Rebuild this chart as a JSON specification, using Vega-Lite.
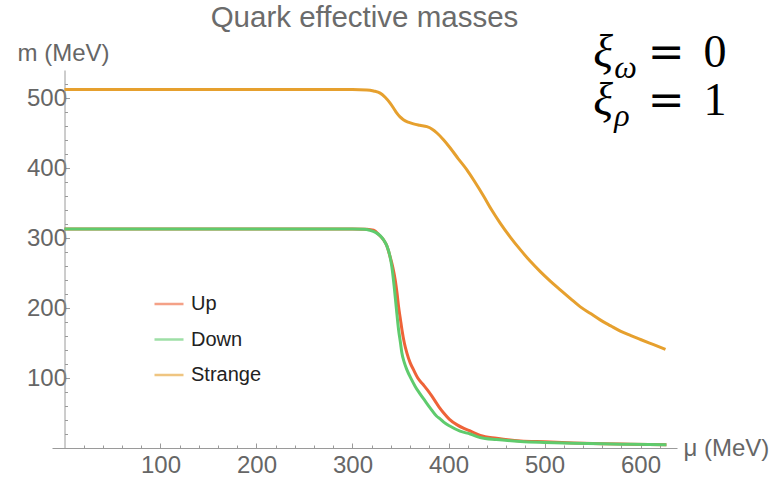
{
  "$schema": "https://vega.github.io/schema/vega-lite/v6.json",
  "width": 625,
  "height": 378,
  "autosize": {"type": "none"},
  "padding": {"left": 52, "top": 70, "right": 107, "bottom": 29},
  "background": "white",
  "config": {"view": {"stroke": null}, "font": "Liberation Sans"},
  "title": {"text": "Quark effective masses", "fontSize": 29.5, "font": "Liberation Sans", "fontWeight": "normal", "color": "#6b6b6b", "anchor": "middle", "offset": 8, "dy": 12},
  "resolve": {"axis": {"x": "independent", "y": "independent"}},
  "datasets": {
    "curves": [
      {"mu": 0, "m": 313, "q": "Up"}, {"mu": 100, "m": 313, "q": "Up"}, {"mu": 200, "m": 313, "q": "Up"}, {"mu": 300, "m": 313, "q": "Up"},
      {"mu": 315, "m": 312.5, "q": "Up"}, {"mu": 322, "m": 311, "q": "Up"}, {"mu": 328, "m": 304, "q": "Up"}, {"mu": 332, "m": 298, "q": "Up"},
      {"mu": 336, "m": 288, "q": "Up"}, {"mu": 339, "m": 274, "q": "Up"}, {"mu": 342, "m": 258, "q": "Up"}, {"mu": 344.5, "m": 240, "q": "Up"},
      {"mu": 346.5, "m": 220, "q": "Up"}, {"mu": 348, "m": 202, "q": "Up"}, {"mu": 350, "m": 183, "q": "Up"}, {"mu": 351.5, "m": 169, "q": "Up"},
      {"mu": 354, "m": 150, "q": "Up"}, {"mu": 356.6, "m": 136, "q": "Up"}, {"mu": 360, "m": 122, "q": "Up"}, {"mu": 363.5, "m": 112, "q": "Up"},
      {"mu": 368, "m": 100, "q": "Up"}, {"mu": 374, "m": 90, "q": "Up"}, {"mu": 378, "m": 83, "q": "Up"}, {"mu": 382.7, "m": 74, "q": "Up"},
      {"mu": 388, "m": 63, "q": "Up"}, {"mu": 391, "m": 57, "q": "Up"}, {"mu": 395, "m": 50, "q": "Up"}, {"mu": 401, "m": 41, "q": "Up"},
      {"mu": 409, "m": 33, "q": "Up"}, {"mu": 416, "m": 28, "q": "Up"}, {"mu": 423, "m": 24, "q": "Up"}, {"mu": 433, "m": 18, "q": "Up"},
      {"mu": 450, "m": 14, "q": "Up"}, {"mu": 475, "m": 10, "q": "Up"}, {"mu": 500, "m": 8.8, "q": "Up"}, {"mu": 530, "m": 7.3, "q": "Up"},
      {"mu": 560, "m": 6.2, "q": "Up"}, {"mu": 590, "m": 5.4, "q": "Up"}, {"mu": 627, "m": 4.7, "q": "Up"},
      {"mu": 0, "m": 313, "q": "Down"}, {"mu": 100, "m": 313, "q": "Down"}, {"mu": 200, "m": 313, "q": "Down"}, {"mu": 300, "m": 313, "q": "Down"},
      {"mu": 312, "m": 312.5, "q": "Down"}, {"mu": 318, "m": 311, "q": "Down"}, {"mu": 324, "m": 308, "q": "Down"}, {"mu": 329, "m": 303, "q": "Down"},
      {"mu": 333, "m": 296, "q": "Down"}, {"mu": 336, "m": 288, "q": "Down"}, {"mu": 339, "m": 274, "q": "Down"}, {"mu": 341, "m": 259, "q": "Down"},
      {"mu": 343.4, "m": 231, "q": "Down"}, {"mu": 345.5, "m": 202, "q": "Down"}, {"mu": 348, "m": 169, "q": "Down"}, {"mu": 350, "m": 150, "q": "Down"},
      {"mu": 351.4, "m": 136, "q": "Down"}, {"mu": 354, "m": 122, "q": "Down"}, {"mu": 356.6, "m": 112, "q": "Down"}, {"mu": 361, "m": 99, "q": "Down"},
      {"mu": 365.3, "m": 88, "q": "Down"}, {"mu": 370, "m": 78, "q": "Down"}, {"mu": 375.7, "m": 67, "q": "Down"}, {"mu": 381, "m": 57, "q": "Down"},
      {"mu": 388, "m": 45, "q": "Down"}, {"mu": 391, "m": 42, "q": "Down"}, {"mu": 395, "m": 37, "q": "Down"}, {"mu": 401.8, "m": 31, "q": "Down"},
      {"mu": 412, "m": 24, "q": "Down"}, {"mu": 422.6, "m": 20, "q": "Down"}, {"mu": 433, "m": 15, "q": "Down"}, {"mu": 450, "m": 12, "q": "Down"},
      {"mu": 475, "m": 9.4, "q": "Down"}, {"mu": 500, "m": 8, "q": "Down"}, {"mu": 530, "m": 6.8, "q": "Down"}, {"mu": 560, "m": 6, "q": "Down"},
      {"mu": 590, "m": 5.3, "q": "Down"}, {"mu": 627, "m": 4.7, "q": "Down"},
      {"mu": 0, "m": 512, "q": "Strange"}, {"mu": 100, "m": 512, "q": "Strange"}, {"mu": 200, "m": 512, "q": "Strange"}, {"mu": 300, "m": 512, "q": "Strange"},
      {"mu": 315, "m": 511.5, "q": "Strange"}, {"mu": 322, "m": 510, "q": "Strange"}, {"mu": 328.8, "m": 507, "q": "Strange"}, {"mu": 334, "m": 501, "q": "Strange"},
      {"mu": 339, "m": 493, "q": "Strange"}, {"mu": 343, "m": 485, "q": "Strange"}, {"mu": 346, "m": 478.6, "q": "Strange"}, {"mu": 349.5, "m": 473, "q": "Strange"},
      {"mu": 353, "m": 469, "q": "Strange"}, {"mu": 358, "m": 465.5, "q": "Strange"}, {"mu": 363.5, "m": 463, "q": "Strange"}, {"mu": 370, "m": 461, "q": "Strange"},
      {"mu": 377.5, "m": 459, "q": "Strange"}, {"mu": 383, "m": 455.5, "q": "Strange"}, {"mu": 388, "m": 450, "q": "Strange"}, {"mu": 395, "m": 440, "q": "Strange"},
      {"mu": 401.8, "m": 428.6, "q": "Strange"}, {"mu": 410, "m": 413.5, "q": "Strange"}, {"mu": 419, "m": 397.6, "q": "Strange"}, {"mu": 427, "m": 381, "q": "Strange"},
      {"mu": 436.5, "m": 360, "q": "Strange"}, {"mu": 445, "m": 340, "q": "Strange"}, {"mu": 454, "m": 321, "q": "Strange"}, {"mu": 464.5, "m": 301, "q": "Strange"},
      {"mu": 475, "m": 283, "q": "Strange"}, {"mu": 485, "m": 267, "q": "Strange"}, {"mu": 495.6, "m": 252, "q": "Strange"}, {"mu": 506, "m": 238.5, "q": "Strange"},
      {"mu": 516.4, "m": 226, "q": "Strange"}, {"mu": 527, "m": 213.5, "q": "Strange"}, {"mu": 537, "m": 202, "q": "Strange"}, {"mu": 548, "m": 192, "q": "Strange"},
      {"mu": 558, "m": 183, "q": "Strange"}, {"mu": 569, "m": 174.5, "q": "Strange"}, {"mu": 579, "m": 167, "q": "Strange"}, {"mu": 590, "m": 160.5, "q": "Strange"},
      {"mu": 600, "m": 155, "q": "Strange"}, {"mu": 613, "m": 148, "q": "Strange"}, {"mu": 626, "m": 141, "q": "Strange"}
    ],
    "eq": [
      {"mu": 550.8, "m": 544.7, "t": "ξ", "part": "main"},
      {"mu": 550.8, "m": 476.1, "t": "ξ", "part": "main"},
      {"mu": 572.7, "m": 529, "t": "ω", "part": "sub"},
      {"mu": 572.7, "m": 460.5, "t": "ρ", "part": "sub"},
      {"mu": 607.5, "m": 544.7, "t": "=", "part": "eqsign"},
      {"mu": 607.5, "m": 476.1, "t": "=", "part": "eqsign"},
      {"mu": 665.5, "m": 544.7, "t": "0", "part": "rhs"},
      {"mu": 665.5, "m": 476.1, "t": "1", "part": "rhs"}
    ]
  },
  "layer": [
    {
      "data": {"name": "curves"},
      "mark": {"type": "line", "strokeWidth": 3, "interpolate": "monotone"},
      "encoding": {
        "x": {
          "field": "mu", "type": "quantitative",
          "scale": {"domain": [-13, 638], "nice": false, "zero": false},
          "axis": {
            "orient": "bottom", "title": "μ (MeV)", "values": [100, 200, 300, 400, 500, 600], "format": "d",
            "domainColor": "#9a9a9a", "tickColor": "#9a9a9a", "tickSize": -5,
            "labelFontSize": 24, "labelColor": "#666666", "labelPadding": 10, "labelOverlap": false, "labelFlush": false,
            "titleFontSize": 24, "titleFontWeight": "normal", "titleColor": "#666666", "titleAngle": 0,
            "titleAlign": "left", "titleBaseline": "middle", "titleX": 631, "titleY": 0, "grid": false
          }
        },
        "y": {
          "field": "m", "type": "quantitative",
          "scale": {"domain": [0, 540], "nice": false, "zero": false},
          "axis": {
            "orient": "left", "title": "m (MeV)", "values": [100, 200, 300, 400, 500], "format": "d",
            "offset": -12.5,
            "domainColor": "#9a9a9a", "tickColor": "#9a9a9a", "tickSize": -5,
            "labelFontSize": 24, "labelColor": "#666666", "labelPadding": 3, "labelOverlap": false, "labelFlush": false,
            "titleFontSize": 24, "titleFontWeight": "normal", "titleColor": "#666666", "titleAngle": 0,
            "titleAlign": "left", "titleBaseline": "alphabetic", "titleX": -47.5, "titleY": -10, "grid": false
          }
        },
        "color": {
          "field": "q", "type": "nominal",
          "scale": {"domain": ["Up", "Down", "Strange"], "range": ["#EE6338", "#5FCB6D", "#E6A02E"]},
          "legend": {
            "title": null, "orient": "none", "legendX": 101, "legendY": 218,
            "symbolType": "stroke", "symbolSize": 841, "symbolStrokeWidth": 2.5, "symbolOpacity": 0.6,
            "labelFontSize": 20, "labelColor": "#222222", "labelFont": "Liberation Sans", "rowPadding": 9.5, "labelOffset": 6, "padding": 0
          }
        }
      }
    },
    {
      "data": {"name": "eq"},
      "transform": [{"filter": "datum.part === 'main'"}],
      "mark": {"type": "text", "font": "Liberation Serif", "fontStyle": "italic", "fontSize": 46, "align": "left", "baseline": "alphabetic", "color": "#000000"},
      "encoding": {
        "x": {"field": "mu", "type": "quantitative", "axis": {"orient": "bottom", "values": [20, 40, 60, 80, 120, 140, 160, 180, 220, 240, 260, 280, 320, 340, 360, 380, 420, 440, 460, 480, 520, 540, 560, 580, 620], "labels": false, "domain": false, "title": null, "tickSize": -3, "tickColor": "#9a9a9a", "grid": false}},
        "y": {"field": "m", "type": "quantitative", "axis": {"orient": "left", "offset": -12.5, "values": [20, 40, 60, 80, 120, 140, 160, 180, 220, 240, 260, 280, 320, 340, 360, 380, 420, 440, 460, 480, 520], "labels": false, "domain": false, "title": null, "tickSize": -3, "tickColor": "#9a9a9a", "grid": false}},
        "text": {"field": "t"}
      }
    },
    {
      "data": {"name": "eq"},
      "transform": [{"filter": "datum.part === 'sub'"}],
      "mark": {"type": "text", "font": "Liberation Serif", "fontStyle": "italic", "fontSize": 32, "align": "left", "baseline": "alphabetic", "color": "#000000"},
      "encoding": {"x": {"field": "mu", "type": "quantitative", "axis": null}, "y": {"field": "m", "type": "quantitative", "axis": null}, "text": {"field": "t"}}
    },
    {
      "data": {"name": "eq"},
      "transform": [{"filter": "datum.part === 'eqsign'"}],
      "mark": {"type": "text", "font": "DejaVu Serif", "fontSize": 44, "align": "left", "baseline": "alphabetic", "color": "#000000"},
      "encoding": {"x": {"field": "mu", "type": "quantitative", "axis": null}, "y": {"field": "m", "type": "quantitative", "axis": null}, "text": {"field": "t"}}
    },
    {
      "data": {"name": "eq"},
      "transform": [{"filter": "datum.part === 'rhs'"}],
      "mark": {"type": "text", "font": "Liberation Serif", "fontSize": 46, "align": "left", "baseline": "alphabetic", "color": "#000000"},
      "encoding": {"x": {"field": "mu", "type": "quantitative", "axis": null}, "y": {"field": "m", "type": "quantitative", "axis": null}, "text": {"field": "t"}}
    }
  ]
}
